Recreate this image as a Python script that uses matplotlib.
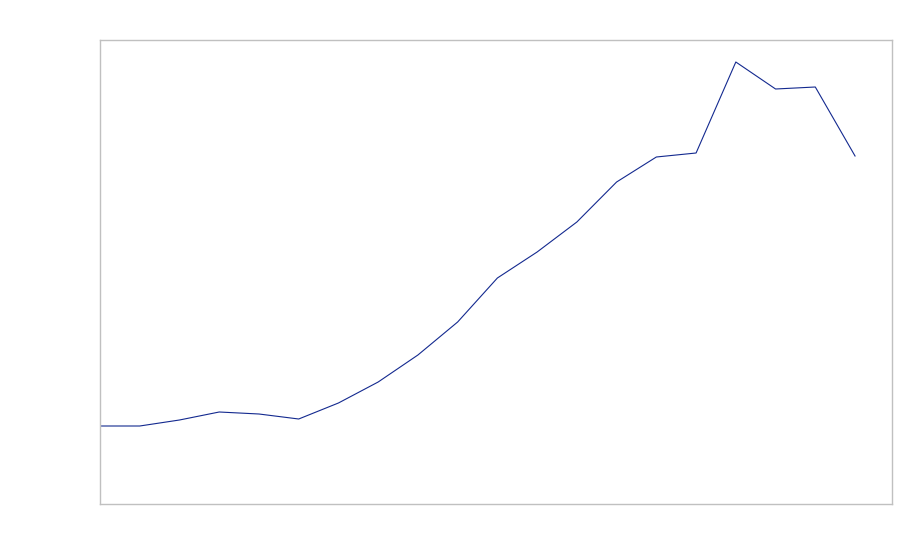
import matplotlib
matplotlib.use("Agg")
import matplotlib.pyplot as plt

# values (arbitrary units, no axis labels shown)
periods = list(range(20))
values = [78, 78, 84, 92, 90, 85, 101, 122, 149, 182,
          226, 252, 282, 322, 347, 351, 442, 415, 417, 348]

fig = plt.figure(figsize=(9, 5.6), dpi=100)
ax = fig.add_axes([100 / 900, 1 - 504 / 560, 792 / 900, 464 / 560])

ax.plot(periods, values, color="#13298f", linewidth=0.8)

ax.set_xlim(0, 19.93)
ax.set_ylim(0, 464)
ax.set_xticks([])
ax.set_yticks([])
for s in ax.spines.values():
    s.set_color("#c0c0c0")
    s.set_linewidth(1)

fig.savefig("out.png", dpi=100, facecolor="white")
